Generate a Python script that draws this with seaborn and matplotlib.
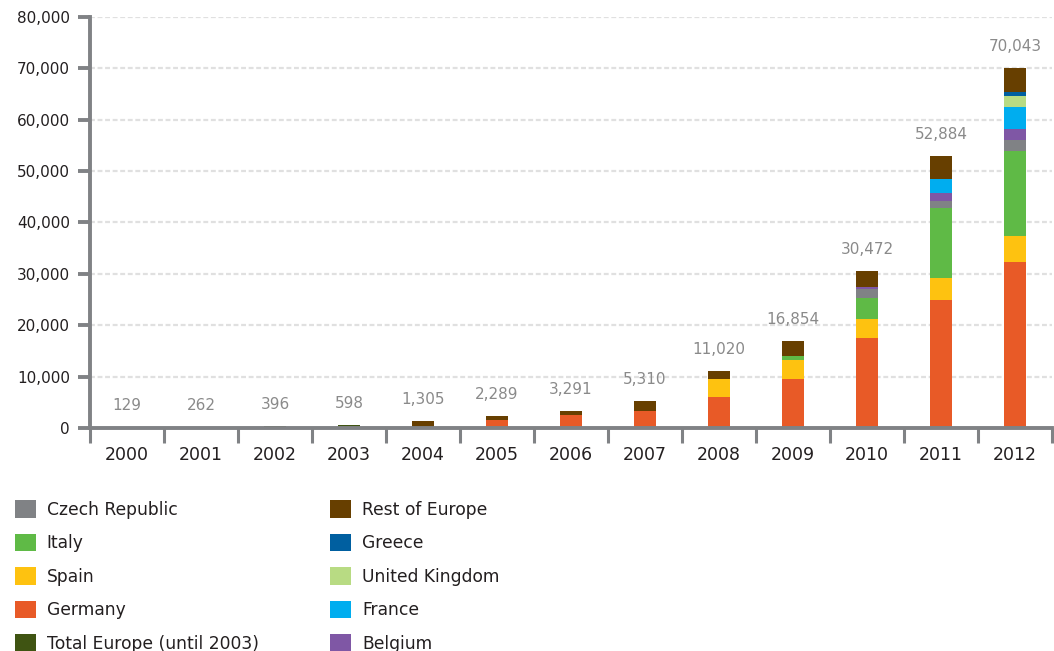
import numpy as np
import pandas as pd
import matplotlib
matplotlib.use("Agg")
import matplotlib.pyplot as plt
from matplotlib.patches import Patch
import seaborn as sns

# ---------------- data (MW) ----------------
years = ["2000", "2001", "2002", "2003", "2004", "2005", "2006",
         "2007", "2008", "2009", "2010", "2011", "2012"]
total_labels = [129, 262, 396, 598, 1305, 2289, 3291, 5310,
                11020, 16854, 30472, 52884, 70043]

total_europe = [129, 262, 396, 598, 0, 0, 0, 0, 0, 0, 0, 0, 0]
germany = [0, 0, 0, 0, 0, 1600, 2550, 3250, 6000, 9550, 17500, 24900, 32300]
spain = [0, 0, 0, 0, 0, 0, 0, 0, 3450, 3650, 3650, 4250, 5000]
italy = [0, 0, 0, 0, 0, 0, 0, 0, 0, 780, 4250, 13700, 16700]
czech = [0, 0, 0, 0, 0, 0, 0, 0, 0, 0, 1600, 1350, 2050]
belgium = [0, 0, 0, 0, 0, 0, 0, 0, 0, 0, 500, 1500, 2150]
france = [0, 0, 0, 0, 0, 0, 0, 0, 0, 0, 0, 2700, 4300]
uk = [0, 0, 0, 0, 0, 0, 0, 0, 0, 0, 0, 0, 2150]
greece = [0, 0, 0, 0, 0, 0, 0, 0, 0, 0, 0, 0, 750]
rest = [0, 0, 0, 0, 1305, 689, 741, 2060, 1570, 2874, 2972, 4484, 4643]

series_names = ["Total Europe (until 2003)", "Germany", "Spain", "Italy",
                "Czech Republic", "Belgium", "France", "United Kingdom",
                "Greece", "Rest of Europe"]
series_values = [total_europe, germany, spain, italy, czech, belgium,
                 france, uk, greece, rest]
colors = {
    "Total Europe (until 2003)": "#3f5412",
    "Germany": "#e85a27",
    "Spain": "#fec210",
    "Italy": "#5fba46",
    "Czech Republic": "#808285",
    "Belgium": "#7f57a5",
    "France": "#00adef",
    "United Kingdom": "#b8db83",
    "Greece": "#005fa0",
    "Rest of Europe": "#673f00",
}

# ---------------- figure ----------------
sns.set_theme(style="white")
plt.rcParams["font.family"] = ["DejaVu Sans"]

fig = plt.figure(figsize=(10.54, 6.51), dpi=100)
ax = fig.add_axes([90 / 1054, 1 - 428 / 651, 962 / 1054, (428 - 17) / 651])

df = pd.DataFrame({n: v for n, v in zip(series_names, series_values)})
df["year"] = years
cum = df[series_names].cumsum(axis=1)

# draw from top layer down (cumulative heights overlapping)
for name in reversed(series_names):
    sns.barplot(x=df["year"], y=cum[name], color=colors[name], saturation=1,
                width=0.29, linewidth=0, edgecolor="none", ax=ax,
                errorbar=None, zorder=3)

grey = "#808285"
dark = "#231f20"
ax.set_ylim(0, 80000)
ax.set_xlim(-0.5, 12.5)
ax.set_xlabel("")
ax.set_ylabel("")
ax.set_yticks(np.arange(0, 80001, 10000))
ax.set_yticklabels([f"{v:,}" for v in range(0, 80001, 10000)])
ax.yaxis.grid(True, linestyle=(0, (2.2, 1.2)), color="#e0e0e0", linewidth=1.6, zorder=0)
ax.xaxis.grid(False)
ax.set_axisbelow(True)

for s in ["top", "right"]:
    ax.spines[s].set_visible(False)
for s in ["left", "bottom"]:
    ax.spines[s].set_color(grey)
    ax.spines[s].set_linewidth(2.8)
    ax.spines[s].set_zorder(5)

ax.set_xticks(np.arange(-0.5, 13, 1), minor=True)
ax.tick_params(axis="x", which="major", length=0, pad=13, labelsize=12.5,
               labelcolor=dark, bottom=False)
ax.tick_params(axis="x", which="minor", length=11, width=2.2, color=grey,
               direction="out", bottom=True)
ax.tick_params(axis="y", which="major", length=8.5, width=2.8, color=grey, pad=6,
               labelsize=11, labelcolor=dark, left=True)

for i, t in enumerate(total_labels):
    ax.annotate(f"{t:,}", (i, t), xytext=(0, 15.5), textcoords="offset points",
                ha="center", va="center", color="#8a8a8a", fontsize=11)

legend_order = ["Czech Republic", "Italy", "Spain", "Germany",
                "Total Europe (until 2003)", "Rest of Europe", "Greece",
                "United Kingdom", "France", "Belgium"]
handles = [Patch(facecolor=colors[n], edgecolor="none") for n in legend_order]
fs = 12.3
leg = fig.legend(handles, legend_order, loc="upper left",
                 bbox_to_anchor=(15 / 1054, 1 - 500 / 651), ncol=2, frameon=False,
                 fontsize=fs, handlelength=1.2, handleheight=1.2,
                 handletextpad=0.65, columnspacing=4.2, labelspacing=0.88,
                 borderpad=0, borderaxespad=0)
for txt in leg.get_texts():
    txt.set_color(dark)

fig.savefig("out.png", dpi=100)
